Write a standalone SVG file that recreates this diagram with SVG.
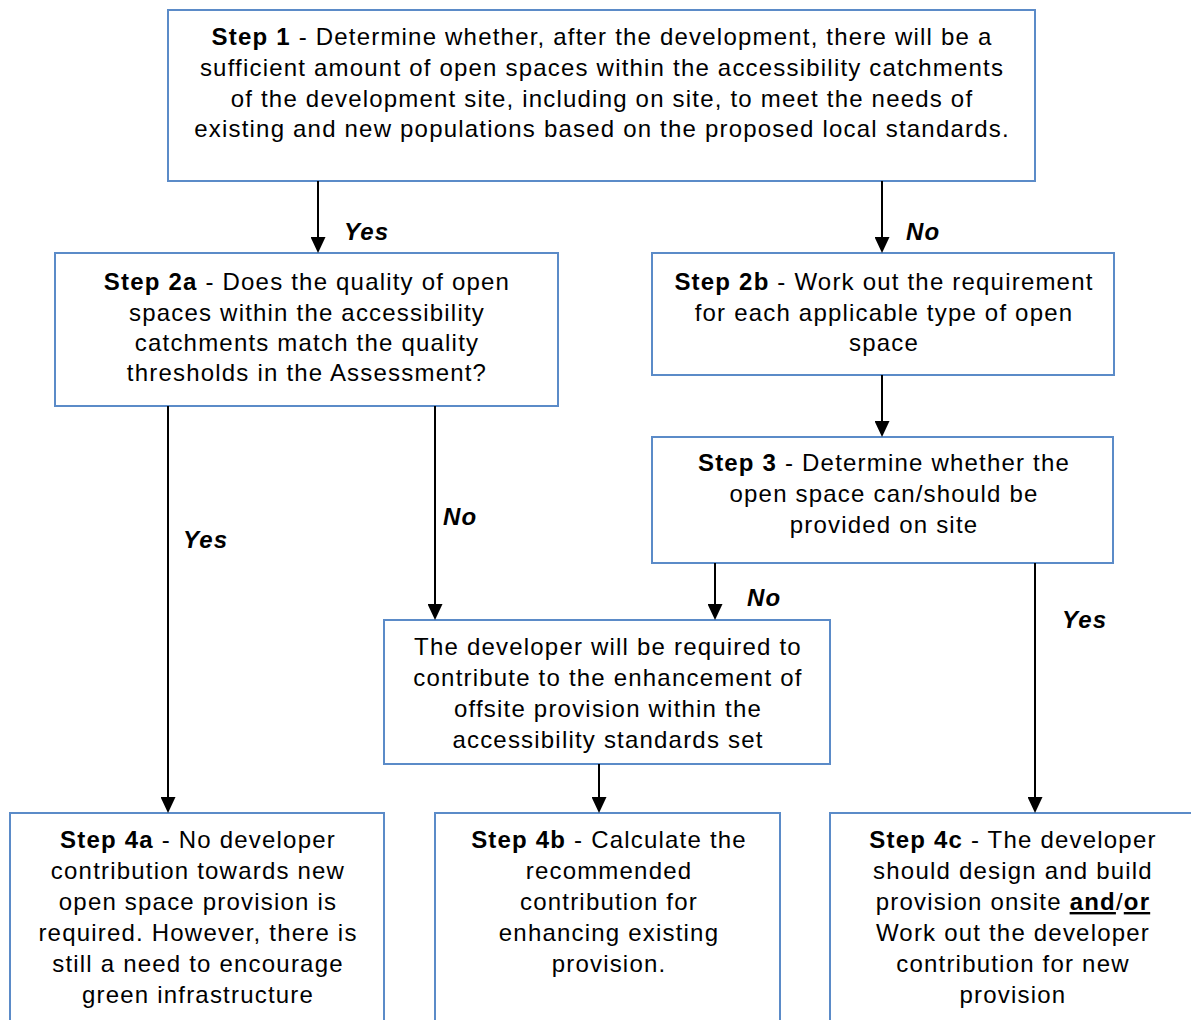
<svg xmlns="http://www.w3.org/2000/svg" width="1191" height="1020" viewBox="0 0 1191 1020">
<style>
.box{fill:#ffffff;stroke:#5B8BC8;stroke-width:2}
.t{font-family:"Liberation Sans",Arial,sans-serif;font-size:24px;letter-spacing:1.2px;fill:#000;text-anchor:middle}
.b{font-weight:bold}
.lbl{font-family:"Liberation Sans",Arial,sans-serif;font-size:24px;letter-spacing:1.2px;font-weight:bold;font-style:italic;fill:#000}
.c{stroke:#000;stroke-width:2;fill:none}
.u{text-decoration:underline}
</style>
<defs>
<marker id="ah" viewBox="0 0 16 15" refX="8" refY="7.5" markerWidth="16" markerHeight="15" markerUnits="userSpaceOnUse" orient="auto">
<path d="M0,0 L16,7.5 L0,15 z" fill="#000"/>
</marker>
</defs>
<rect width="1191" height="1020" fill="#fff"/>

<g id="step1">
<rect class="box" x="168" y="10" width="867" height="171"/>
<text class="t"><tspan x="602" y="45"><tspan class="b">Step 1</tspan> - Determine whether, after the development, there will be a</tspan><tspan x="602" y="76">sufficient amount of open spaces within the accessibility catchments</tspan><tspan x="602" y="107">of the development site, including on site, to meet the needs of</tspan><tspan x="602" y="137">existing and new populations based on the proposed local standards.</tspan></text>
</g>

<g id="step2a">
<rect class="box" x="55" y="253" width="503" height="153"/>
<text class="t"><tspan x="307" y="290"><tspan class="b">Step 2a</tspan> - Does the quality of open</tspan><tspan x="307" y="321">spaces within the accessibility</tspan><tspan x="307" y="351">catchments match the quality</tspan><tspan x="307" y="381">thresholds in the Assessment?</tspan></text>
</g>

<g id="step2b">
<rect class="box" x="652" y="253" width="462" height="122"/>
<text class="t"><tspan x="884" y="290"><tspan class="b">Step 2b</tspan> - Work out the requirement</tspan><tspan x="884" y="321">for each applicable type of open</tspan><tspan x="884" y="351">space</tspan></text>
</g>

<g id="step3">
<rect class="box" x="652" y="437" width="461" height="126"/>
<text class="t"><tspan x="884" y="471"><tspan class="b">Step 3</tspan> - Determine whether the</tspan><tspan x="884" y="502">open space can/should be</tspan><tspan x="884" y="533">provided on site</tspan></text>
</g>

<g id="offsite">
<rect class="box" x="384" y="620" width="446" height="144"/>
<text class="t"><tspan x="608" y="655">The developer will be required to</tspan><tspan x="608" y="686">contribute to the enhancement of</tspan><tspan x="608" y="717">offsite provision within the</tspan><tspan x="608" y="748">accessibility standards set</tspan></text>
</g>

<g id="step4a">
<rect class="box" x="10" y="813" width="374" height="230"/>
<text class="t"><tspan x="198" y="848"><tspan class="b">Step 4a</tspan> - No developer</tspan><tspan x="198" y="879">contribution towards new</tspan><tspan x="198" y="910">open space provision is</tspan><tspan x="198" y="941">required. However, there is</tspan><tspan x="198" y="972">still a need to encourage</tspan><tspan x="198" y="1003">green infrastructure</tspan></text>
</g>

<g id="step4b">
<rect class="box" x="435" y="813" width="345" height="230"/>
<text class="t"><tspan x="609" y="848"><tspan class="b">Step 4b</tspan> - Calculate the</tspan><tspan x="609" y="879">recommended</tspan><tspan x="609" y="910">contribution for</tspan><tspan x="609" y="941">enhancing existing</tspan><tspan x="609" y="972">provision.</tspan></text>
</g>

<g id="step4c">
<rect class="box" x="830" y="813" width="370" height="230"/>
<text class="t"><tspan x="1013" y="848"><tspan class="b">Step 4c</tspan> - The developer</tspan><tspan x="1013" y="879">should design and build</tspan><tspan x="1013" y="910">provision onsite <tspan class="b u">and</tspan>/<tspan class="b u">or</tspan></tspan><tspan x="1013" y="941">Work out the developer</tspan><tspan x="1013" y="972">contribution for new</tspan><tspan x="1013" y="1003">provision</tspan></text>
</g>

<g id="connectors">
<line class="c" x1="318" y1="181" x2="318" y2="245" marker-end="url(#ah)"/>
<line class="c" x1="882" y1="181" x2="882" y2="245" marker-end="url(#ah)"/>
<line class="c" x1="882" y1="375" x2="882" y2="429" marker-end="url(#ah)"/>
<line class="c" x1="168" y1="406" x2="168" y2="805" marker-end="url(#ah)"/>
<line class="c" x1="435" y1="406" x2="435" y2="612" marker-end="url(#ah)"/>
<line class="c" x1="715" y1="563" x2="715" y2="612" marker-end="url(#ah)"/>
<line class="c" x1="1035" y1="563" x2="1035" y2="805" marker-end="url(#ah)"/>
<line class="c" x1="599" y1="764" x2="599" y2="805" marker-end="url(#ah)"/>
<text class="lbl" x="344" y="240">Yes</text>
<text class="lbl" x="906" y="240">No</text>
<text class="lbl" x="183" y="548">Yes</text>
<text class="lbl" x="443" y="525">No</text>
<text class="lbl" x="747" y="606">No</text>
<text class="lbl" x="1062" y="628">Yes</text>
</g>
</svg>
